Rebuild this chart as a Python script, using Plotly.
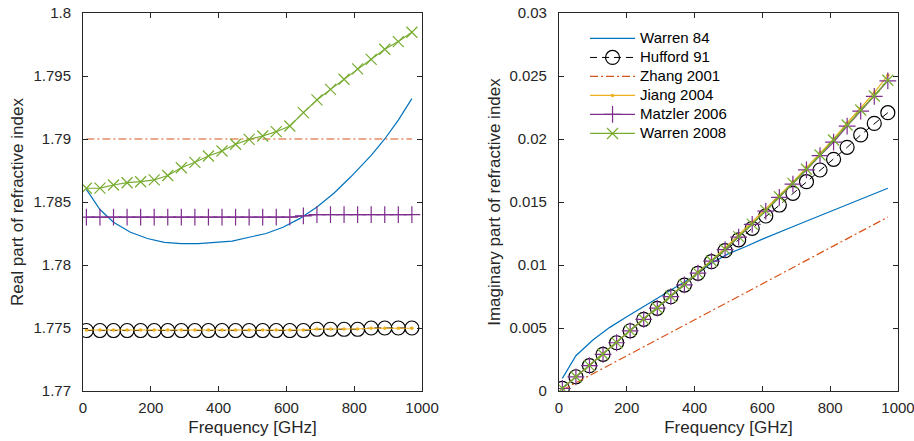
import plotly.graph_objects as go
from plotly.subplots import make_subplots

# ---------------- data ----------------
freq = [10, 50, 90, 130, 170, 210, 250, 290, 330, 370, 410, 450, 490,
        530, 570, 610, 650, 690, 730, 770, 810, 850, 890, 930, 970]

# Warren 84 (smooth curves, own sampling)
w84_freq_re = [10, 50, 90, 140, 190, 240, 290, 340, 390, 440, 490, 540,
               590, 640, 690, 740, 790, 850, 890, 930, 970]
w84_re = [1.7860, 1.7844, 1.7834, 1.7826, 1.7821, 1.7818, 1.7817, 1.7817,
          1.7818, 1.7819, 1.7822, 1.7825, 1.7830, 1.7837, 1.7846, 1.7857,
          1.7870, 1.7887, 1.7900, 1.7915, 1.7932]
w84_freq_im = [10, 50, 100, 150, 200, 250, 300, 350, 400, 450, 500, 550,
               600, 700, 800, 900, 970]
w84_im = [0.00100, 0.00280, 0.00405, 0.00505, 0.00590, 0.00670, 0.00750,
          0.00835, 0.00915, 0.01015, 0.01090, 0.01145, 0.01205, 0.01315,
          0.01425, 0.01535, 0.01609]

hufford_re = [1.7748] * 17 + [1.7749] * 4 + [1.7750] * 4
hufford_im = [0.00021, 0.00113, 0.00201, 0.00291, 0.00383, 0.00478, 0.00569,
              0.00656, 0.00748, 0.00841, 0.00934, 0.01026, 0.01114, 0.01200,
              0.01291, 0.01389, 0.01476, 0.01569, 0.01661, 0.01754, 0.01839,
              0.01934, 0.02032, 0.02124, 0.02209]

zhang_freq = [10, 970]
zhang_re = [1.7900, 1.7900]
zhang_im = [0.00008, 0.01380]

jiang_re = [1.77484] * 17 + [1.77492] * 4 + [1.77498] * 4
jiang_im = [0.00021, 0.00114, 0.00203, 0.00294, 0.00387, 0.00481, 0.00573,
            0.00662, 0.00755, 0.00849, 0.00944, 0.01038, 0.01135, 0.01238,
            0.01338, 0.01446, 0.01552, 0.01660, 0.01775, 0.01890, 0.02000,
            0.02127, 0.02245, 0.02368, 0.02505]

matzler_re = [1.7838] * 16 + [1.7839] + [1.7840] * 8
matzler_im = [0.00020, 0.00112, 0.00201, 0.00291, 0.00383, 0.00477, 0.00568,
              0.00657, 0.00749, 0.00842, 0.00936, 0.01030, 0.01122, 0.01222,
              0.01322, 0.01428, 0.01537, 0.01642, 0.01755, 0.01868, 0.01975,
              0.02102, 0.02222, 0.02338, 0.02462]

w08_re = [1.78609, 1.78610, 1.78635, 1.78653, 1.78661, 1.78675, 1.78710,
          1.78772, 1.78815, 1.78865, 1.78905, 1.78958, 1.78997, 1.79024,
          1.79058, 1.79103, 1.79209, 1.79310, 1.79394, 1.79474, 1.79556,
          1.79632, 1.79712, 1.79773, 1.79847]
w08_im = [0.00021, 0.00113, 0.00202, 0.00292, 0.00384, 0.00479, 0.00570,
          0.00659, 0.00751, 0.00844, 0.00938, 0.01032, 0.01124, 0.01225,
          0.01325, 0.01431, 0.01542, 0.01648, 0.01760, 0.01873, 0.01992,
          0.02111, 0.02230, 0.02341, 0.02466]

series_names = ["Warren 84", "Hufford 91", "Zhang 2001", "Jiang 2004",
                "Matzler 2006", "Warren 2008"]

xticks = [0, 200, 400, 600, 800, 1000]
re_ticks = [1.77, 1.775, 1.78, 1.785, 1.79, 1.795, 1.8]
re_labels = ["1.77", "1.775", "1.78", "1.785", "1.79", "1.795", "1.8"]
im_ticks = [0, 0.005, 0.01, 0.015, 0.02, 0.025, 0.03]
im_labels = ["0", "0.005", "0.01", "0.015", "0.02", "0.025", "0.03"]

# ---------------- styles ----------------
C_BLUE = "#0072BD"
C_ORANGE = "#D95319"
C_YELLOW = "#EDB120"
C_PURPLE = "#7E2F8E"
C_GREEN = "#77AC30"
C_BLACK = "#000000"
AX = "#262626"
FONT = "Liberation Sans, Arial, sans-serif"


def lname(s):
    # visible legend text at 15px while the legend rows stay compact
    return '<span style="font-size:15px">' + s + '</span>'


fig = make_subplots(rows=1, cols=2, horizontal_spacing=0.168)


def add_series(col, show):
    re = col == 1
    fig.add_trace(go.Scatter(
        x=w84_freq_re if re else w84_freq_im, y=w84_re if re else w84_im,
        mode="lines", name=lname(series_names[0]), legendgroup="a",
        showlegend=show,
        line=dict(color=C_BLUE, width=1.2)), row=1, col=col)
    fig.add_trace(go.Scatter(
        x=freq, y=hufford_re if re else hufford_im, mode="lines+markers",
        name=lname(series_names[1]), legendgroup="b", showlegend=show,
        line=dict(color=C_BLACK, width=1, dash="7px,5px"),
        marker=dict(symbol="circle-open", size=14,
                    line=dict(color=C_BLACK, width=1.2))), row=1, col=col)
    fig.add_trace(go.Scatter(
        x=zhang_freq, y=zhang_re if re else zhang_im, mode="lines",
        name=lname(series_names[2]), legendgroup="c", showlegend=show,
        line=dict(color=C_ORANGE, width=1.2, dash="8px,3px,2px,3px")),
        row=1, col=col)
    fig.add_trace(go.Scatter(
        x=freq, y=jiang_re if re else jiang_im, mode="lines+markers",
        name=lname(series_names[3]), legendgroup="d", showlegend=show,
        line=dict(color=C_YELLOW, width=1.2),
        marker=dict(symbol="circle", size=3.5, color=C_YELLOW)),
        row=1, col=col)
    fig.add_trace(go.Scatter(
        x=freq, y=matzler_re if re else matzler_im, mode="lines+markers",
        name=lname(series_names[4]), legendgroup="e", showlegend=show,
        line=dict(color=C_PURPLE, width=1.2),
        marker=dict(symbol="cross-thin", size=12,
                    line=dict(color=C_PURPLE, width=1.2))), row=1, col=col)
    fig.add_trace(go.Scatter(
        x=freq, y=w08_re if re else w08_im, mode="lines+markers",
        name=lname(series_names[5]), legendgroup="f", showlegend=show,
        line=dict(color=C_GREEN, width=1.2),
        marker=dict(symbol="x-thin", size=11,
                    line=dict(color=C_GREEN, width=1.2))), row=1, col=col)


add_series(1, False)
add_series(2, True)

axis_common = dict(showline=True, linecolor=AX, linewidth=1, mirror="ticks",
                   ticks="inside", ticklen=5, tickcolor=AX, tickwidth=1,
                   showgrid=False, zeroline=False, automargin=False,
                   ticklabeloverflow="allow",
                   tickfont=dict(family=FONT, size=15, color=AX),
                   title_font=dict(family=FONT, size=17, color=AX))

for c in (1, 2):
    fig.update_xaxes(range=[0, 1000], tickvals=xticks,
                     ticktext=[str(v) for v in xticks],
                     title_text="Frequency [GHz]", title_standoff=6,
                     ticklabelstandoff=3, row=1, col=c, **axis_common)

fig.update_yaxes(range=[1.77, 1.8], tickvals=re_ticks, ticktext=re_labels,
                 title_text="Real part of refractive index", title_standoff=5,
                 ticklabelstandoff=8, row=1, col=1, **axis_common)
fig.update_yaxes(range=[0, 0.03], tickvals=im_ticks, ticktext=im_labels,
                 title_text="Imaginary part of refractive index",
                 title_standoff=4, ticklabelstandoff=8, row=1, col=2,
                 **axis_common)

fig.update_layout(
    width=914, height=441,
    margin=dict(l=83, r=16, t=13, b=50),
    paper_bgcolor="white", plot_bgcolor="white",
    font=dict(family=FONT, color=AX),
    legend=dict(x=0.616, y=0.971, xanchor="left", yanchor="top",
                bgcolor="rgba(255,255,255,0)", borderwidth=0,
                font=dict(family=FONT, size=11.5, color="#000000"),
                tracegroupgap=0, itemwidth=45),
)

fig.write_html("out.html", config={"displayModeBar": False},
               post_script="document.body.style.margin='0px';")
